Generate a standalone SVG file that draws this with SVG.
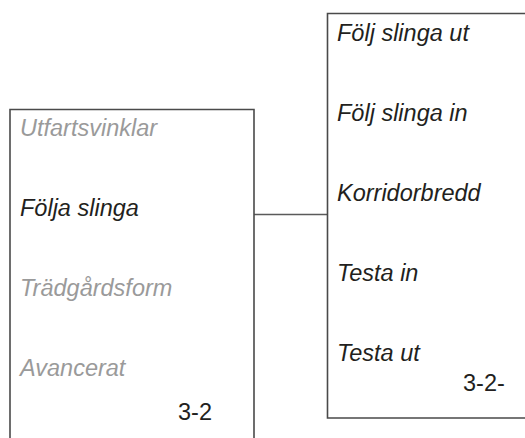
<svg xmlns="http://www.w3.org/2000/svg" width="525" height="438" viewBox="0 0 525 438">
<style>
.box{fill:#fff;stroke:#4a4a4a;stroke-width:1.6}
.conn{stroke:#5a5a5a;stroke-width:1.5;fill:none}
text{font-family:"Liberation Sans",Arial,sans-serif;font-size:23.5px}
.it{font-style:italic}
.dim{fill:#9a9a9a}
.dark{fill:#231f20}
</style>
<rect width="525" height="438" fill="#fff"/>
<g id="connectors">
<line class="conn" x1="254" y1="214.5" x2="327" y2="214.5"/>
</g>
<g id="menu-left">
<path class="box" d="M10 445 V109.5 H254 V445"/>
<text class="it dim" x="20" y="136">Utfartsvinklar</text>
<text class="it dark" x="20" y="216">Följa slinga</text>
<text class="it dim" x="20" y="296">Trädgårdsform</text>
<text class="it dim" x="20" y="376">Avancerat</text>
<text class="dark" x="178" y="420">3-2</text>
</g>
<g id="menu-right">
<path class="box" d="M535 13.5 H327.5 V418 H535"/>
<text class="it dark" x="337" y="41">Följ slinga ut</text>
<text class="it dark" x="337" y="121">Följ slinga in</text>
<text class="it dark" x="337" y="201">Korridorbredd</text>
<text class="it dark" x="337" y="281">Testa in</text>
<text class="it dark" x="337" y="361">Testa ut</text>
<text class="dark" x="463" y="391">3-2-</text>
</g>
</svg>
